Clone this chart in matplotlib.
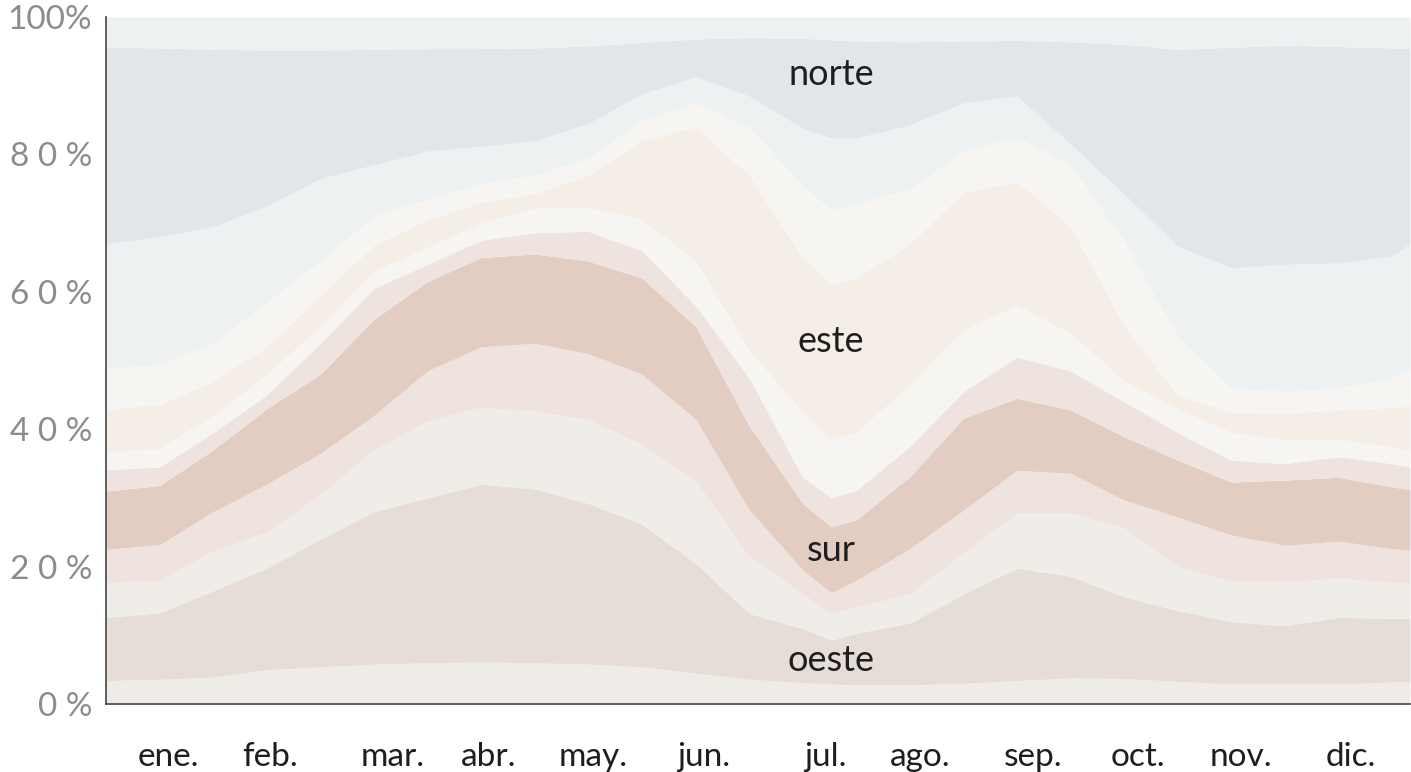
import numpy as np
import matplotlib.pyplot as plt

# day of year where each boundary was read
days = [0, 15, 30, 45, 60, 75, 90, 105, 120, 135, 150, 165, 180,
        195, 203, 210, 225, 240, 255, 270, 285, 300, 315, 330, 345, 360, 365]

# cumulative share (%) at the top of each band, bottom to top
oeste_lo = [3.4, 3.6, 3.9, 5.0, 5.4, 5.8, 6.0, 6.1, 6.0, 5.8, 5.4, 4.5, 3.6,
            3.1, 2.9, 2.8, 2.8, 3.0, 3.4, 3.8, 3.7, 3.3, 2.9, 2.9, 2.9, 3.2, 3.2]
oeste = [12.6, 13.3, 16.5, 19.8, 24.0, 28.0, 30.0, 32.0, 31.3, 29.2, 26.2, 20.5, 13.2,
         11.0, 9.3, 10.3, 11.8, 16.0, 19.8, 18.6, 15.6, 13.6, 12.0, 11.4, 12.6, 12.5, 12.5]
oeste_hi = [17.6, 18.0, 22.3, 25.0, 30.5, 37.0, 41.2, 43.2, 42.6, 41.4, 37.8, 32.5, 21.5,
            16.0, 13.2, 14.1, 16.0, 22.0, 27.8, 27.8, 25.6, 20.0, 17.8, 17.8, 18.3, 17.7, 17.6]
sur_lo = [22.5, 23.2, 28.0, 32.0, 36.5, 42.0, 48.5, 52.0, 52.5, 51.0, 48.0, 41.5, 28.3,
          19.5, 16.2, 18.0, 22.6, 28.2, 34.0, 33.6, 29.7, 27.2, 24.6, 23.1, 23.7, 22.6, 22.4]
sur = [31.0, 31.8, 37.0, 43.0, 48.0, 56.0, 61.5, 65.0, 65.5, 64.5, 62.0, 55.0, 40.5,
       29.2, 25.8, 26.8, 33.1, 41.6, 44.5, 42.8, 38.9, 35.5, 32.3, 32.6, 33.0, 31.6, 31.2]
sur_hi = [34.1, 34.5, 39.5, 45.0, 52.5, 60.5, 64.0, 67.5, 68.6, 68.8, 66.0, 58.0, 47.5,
          33.0, 30.0, 31.1, 37.5, 45.5, 50.5, 48.5, 44.0, 39.5, 35.5, 35.0, 36.0, 35.0, 34.5]
este_lo = [36.7, 37.2, 42.0, 48.0, 55.0, 63.0, 66.5, 70.0, 72.2, 72.3, 70.5, 64.5, 51.5,
           42.5, 38.4, 39.5, 46.5, 54.5, 58.0, 54.0, 47.0, 43.0, 39.5, 38.5, 38.5, 37.5, 36.8]
este = [42.9, 43.6, 47.0, 52.0, 59.5, 66.8, 70.5, 73.0, 74.3, 77.0, 82.0, 84.0, 77.0,
        65.0, 61.0, 62.0, 67.0, 74.5, 76.0, 69.5, 55.0, 45.0, 42.5, 42.3, 42.8, 43.2, 43.4]
este_hi = [48.8, 49.4, 52.5, 58.5, 64.5, 71.0, 73.5, 75.8, 77.0, 79.5, 85.0, 87.5, 84.0,
           75.5, 71.9, 72.8, 75.0, 80.5, 82.5, 78.5, 67.4, 53.5, 46.0, 45.5, 46.0, 47.5, 48.6]
norte_lo = [67.0, 68.0, 69.5, 72.5, 76.5, 78.5, 80.5, 81.2, 82.0, 84.5, 88.8, 91.3, 88.5,
            83.8, 82.4, 82.4, 84.3, 87.5, 88.5, 81.5, 74.2, 66.6, 63.5, 64.0, 64.2, 65.2, 67.0]
norte = [95.6, 95.5, 95.3, 95.2, 95.2, 95.3, 95.4, 95.4, 95.5, 95.8, 96.3, 96.8, 97.0,
         96.9, 96.7, 96.5, 96.4, 96.5, 96.6, 96.4, 96.0, 95.3, 95.6, 95.9, 95.7, 95.5, 95.5]

months = ['ene.', 'feb.', 'mar.', 'abr.', 'may.', 'jun.',
          'jul.', 'ago.', 'sep.', 'oct.', 'nov.', 'dic.']
month_pos = [17.4, 45.9, 80.3, 107.2, 136.3, 167.4, 201.5, 227.8, 259.5, 288.8, 317.7, 348.5]
yticks = [0, 20, 40, 60, 80, 100]
ylabels = ['0 %', '2 0 %', '4 0 %', '6 0 %', '8 0 %', '100%']

band_labels = ['oeste', 'sur', 'este', 'norte']
band_label_pos = [(202.9, 6.4), (202.9, 22.4), (202.9, 52.8), (202.9, 91.6)]

colors = ['#efebe6', '#e6ddd6', '#f0ece8',
          '#efe3df', '#e3ccc2', '#efe3df',
          '#f7f5f1', '#f4eee6', '#f7f5f1',
          '#edf1f2', '#e2e6e9', '#eef1f2']

plt.rcParams['font.family'] = ['Lato', 'DejaVu Sans']

fig = plt.figure(figsize=(14.11, 7.72), dpi=100)
ax = fig.add_axes([106 / 1411, 68 / 772, 1304 / 1411, 687 / 772])

x = np.array(days)
tops = [oeste_lo, oeste, oeste_hi, sur_lo, sur, sur_hi,
        este_lo, este, este_hi, norte_lo, norte, [100] * len(days)]
prev = np.zeros(len(days))
for top, col in zip(tops, colors):
    top = np.array(top, dtype=float)
    ax.fill_between(x, prev, top, color=col, lw=0)
    prev = top

for lab, (px, py) in zip(band_labels, band_label_pos):
    ax.text(px, py, lab, ha='center', va='center', fontsize=26, color='#1e1e1e')

ax.set_xlim(0, 365)
ax.set_ylim(0, 100)
ax.set_xticks(month_pos)
ax.set_xticklabels(months, fontsize=24, color='#1e1e1e')
ax.set_yticks(yticks)
ax.set_yticklabels(ylabels, fontsize=24, color='#8c8c8c')
ax.tick_params(axis='x', length=0, pad=27)
ax.tick_params(axis='y', length=0, pad=10)
for s in ['top', 'right']:
    ax.spines[s].set_visible(False)
ax.spines['left'].set_color('#444444')
ax.spines['bottom'].set_color('#444444')
ax.spines['left'].set_linewidth(1.2)
ax.spines['bottom'].set_linewidth(1.2)

fig.savefig('out.png', dpi=100, facecolor='white')
